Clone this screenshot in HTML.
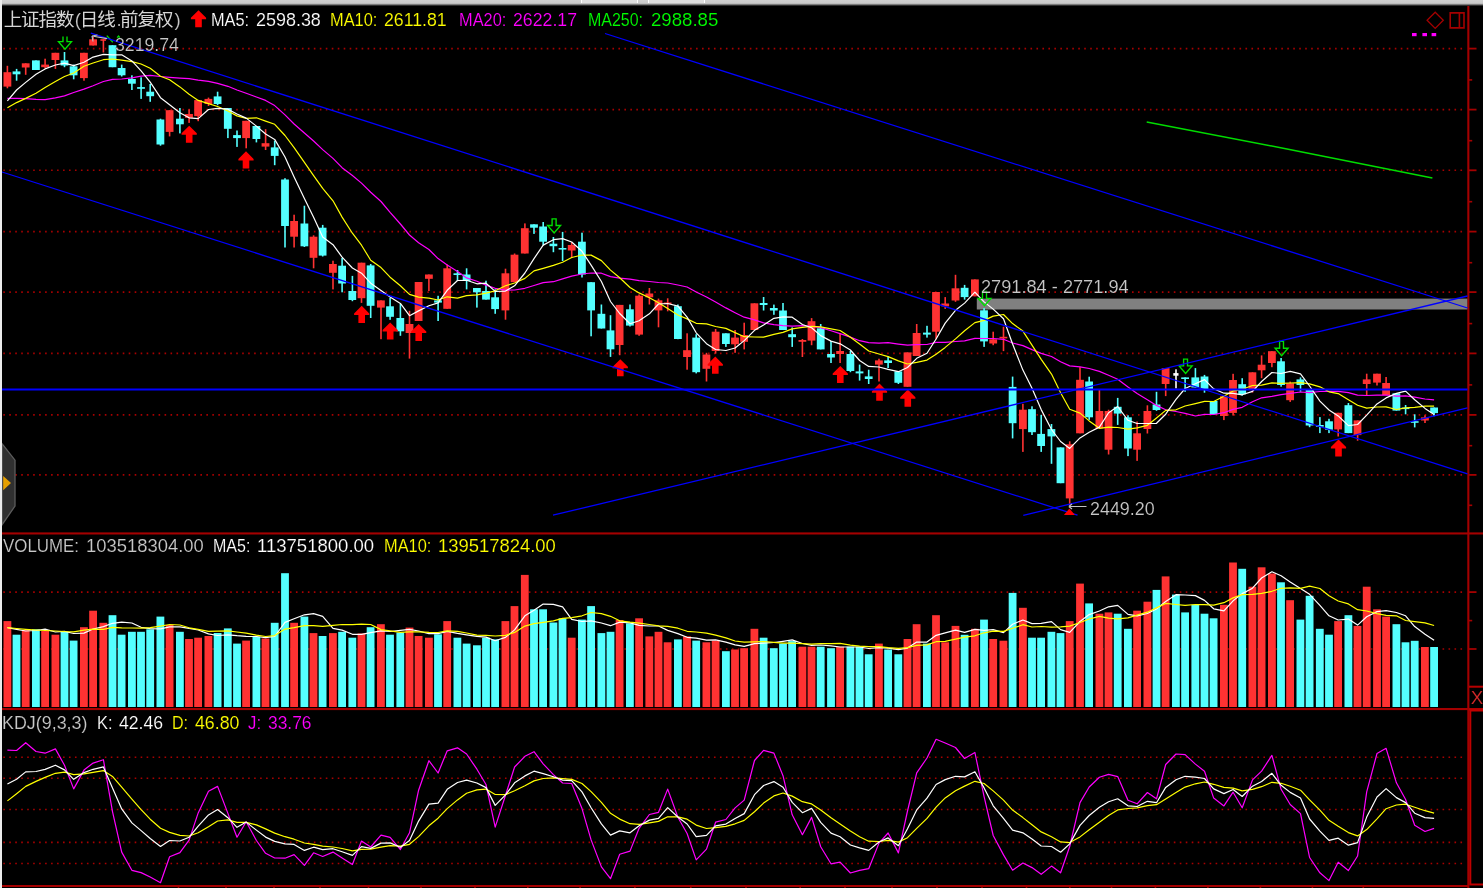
<!DOCTYPE html>
<html><head><meta charset="utf-8"><title>上证指数</title>
<style>
html,body{margin:0;padding:0;background:#000;}
body{width:1483px;height:888px;position:relative;overflow:hidden;font-family:"Liberation Sans",sans-serif;}
#top{position:absolute;left:0;top:0;width:1483px;height:6px;background:linear-gradient(#d0d0d0 0,#cacaca 55%,#555 85%,#000 100%);}
  .tab{position:absolute;top:0;width:55px;height:3.4px;background:#dedede;border-left:1.5px solid #fff;border-right:1.5px solid #fff;}
#left{position:absolute;left:0;top:0;width:2px;height:888px;background:#ececec;}
svg{position:absolute;left:0;top:0;filter:blur(0.45px);}
.t{filter:blur(0.3px);}
.t{position:absolute;line-height:20px;white-space:pre;transform-origin:0 0;-webkit-text-stroke:0.15px #000;}
.h{position:absolute;left:4px;top:8px;font-size:17.4px;line-height:20px;color:transparent;white-space:pre;}
</style></head><body>
<svg width="1483" height="888" viewBox="0 0 1483 888">
<line x1="3.3" y1="48.6" x2="1463" y2="48.6" stroke="#a80000" stroke-width="1.6" stroke-dasharray="1.6 4.372"/>
<line x1="3.3" y1="109.6" x2="1463" y2="109.6" stroke="#a80000" stroke-width="1.6" stroke-dasharray="1.6 4.372"/>
<line x1="3.3" y1="170.3" x2="1463" y2="170.3" stroke="#a80000" stroke-width="1.6" stroke-dasharray="1.6 4.372"/>
<line x1="3.3" y1="231.6" x2="1463" y2="231.6" stroke="#a80000" stroke-width="1.6" stroke-dasharray="1.6 4.372"/>
<line x1="3.3" y1="292.1" x2="1463" y2="292.1" stroke="#a80000" stroke-width="1.6" stroke-dasharray="1.6 4.372"/>
<line x1="3.3" y1="353.4" x2="1463" y2="353.4" stroke="#a80000" stroke-width="1.6" stroke-dasharray="1.6 4.372"/>
<line x1="3.3" y1="414.9" x2="1463" y2="414.9" stroke="#a80000" stroke-width="1.6" stroke-dasharray="1.6 4.372"/>
<line x1="3.3" y1="474.9" x2="1463" y2="474.9" stroke="#a80000" stroke-width="1.6" stroke-dasharray="1.6 4.372"/>
<line x1="3.3" y1="592.1" x2="1463" y2="592.1" stroke="#a80000" stroke-width="1.6" stroke-dasharray="1.6 4.372"/>
<line x1="3.3" y1="649" x2="1463" y2="649" stroke="#a80000" stroke-width="1.6" stroke-dasharray="1.6 4.372"/>
<line x1="3.3" y1="757.3" x2="1463" y2="757.3" stroke="#a80000" stroke-width="1.6" stroke-dasharray="1.6 4.372"/>
<line x1="3.3" y1="778.2" x2="1463" y2="778.2" stroke="#a80000" stroke-width="1.6" stroke-dasharray="1.6 4.372"/>
<line x1="3.3" y1="809.5" x2="1463" y2="809.5" stroke="#a80000" stroke-width="1.6" stroke-dasharray="1.6 4.372"/>
<line x1="3.3" y1="842.4" x2="1463" y2="842.4" stroke="#a80000" stroke-width="1.6" stroke-dasharray="1.6 4.372"/>
<line x1="3.3" y1="863.5" x2="1463" y2="863.5" stroke="#a80000" stroke-width="1.6" stroke-dasharray="1.6 4.372"/>
<rect x="1467.3" y="6" width="2.1" height="882" fill="#a40000"/>
<rect x="2" y="532.4" width="1481" height="2.1" fill="#a40000"/>
<rect x="2" y="708" width="1481" height="2.1" fill="#a40000"/>
<rect x="2" y="885" width="1467" height="2" fill="#a40000"/>
<rect x="1469" y="47.7" width="7.5" height="1.8" fill="#a40000"/>
<rect x="1469" y="108.7" width="7.5" height="1.8" fill="#a40000"/>
<rect x="1469" y="169.4" width="7.5" height="1.8" fill="#a40000"/>
<rect x="1469" y="230.7" width="7.5" height="1.8" fill="#a40000"/>
<rect x="1469" y="291.2" width="7.5" height="1.8" fill="#a40000"/>
<rect x="1469" y="352.5" width="7.5" height="1.8" fill="#a40000"/>
<rect x="1469" y="414" width="7.5" height="1.8" fill="#a40000"/>
<rect x="1469" y="474" width="7.5" height="1.8" fill="#a40000"/>
<rect x="1469" y="79.1" width="3.2" height="1.6" fill="#a40000"/>
<rect x="1469" y="139.9" width="3.2" height="1.6" fill="#a40000"/>
<rect x="1469" y="200.9" width="3.2" height="1.6" fill="#a40000"/>
<rect x="1469" y="261.9" width="3.2" height="1.6" fill="#a40000"/>
<rect x="1469" y="322.8" width="3.2" height="1.6" fill="#a40000"/>
<rect x="1469" y="384.1" width="3.2" height="1.6" fill="#a40000"/>
<rect x="1469" y="444.9" width="3.2" height="1.6" fill="#a40000"/>
<rect x="1469" y="504.5" width="3.2" height="1.6" fill="#a40000"/>
<rect x="1469" y="591.2" width="7.5" height="1.8" fill="#a40000"/>
<rect x="1469" y="648.1" width="7.5" height="1.8" fill="#a40000"/>
<rect x="1469" y="619.8" width="3.2" height="1.6" fill="#a40000"/>
<rect x="1469" y="685.7" width="14" height="2" fill="#b80000"/>
<rect x="1469" y="708.4" width="14" height="2" fill="#b80000"/>
<path d="M1484,710.6 H1470.3 V884.6 H1484" fill="none" stroke="#c00000" stroke-width="2"/>
<rect x="177.7" y="886" width="1.6" height="2" fill="#a40000"/>
<rect x="225.2" y="886" width="1.6" height="2" fill="#a40000"/>
<rect x="273.2" y="886" width="1.6" height="2" fill="#a40000"/>
<rect x="319.2" y="886" width="1.6" height="2" fill="#a40000"/>
<rect x="367.7" y="886" width="1.6" height="2" fill="#a40000"/>
<rect x="420.2" y="886" width="1.6" height="2" fill="#a40000"/>
<rect x="474.2" y="886" width="1.6" height="2" fill="#a40000"/>
<rect x="527" y="886" width="1.6" height="2" fill="#a40000"/>
<rect x="579.3" y="886" width="1.6" height="2" fill="#a40000"/>
<rect x="634.1" y="886" width="1.6" height="2" fill="#a40000"/>
<rect x="690" y="886" width="1.6" height="2" fill="#a40000"/>
<rect x="745.2" y="886" width="1.6" height="2" fill="#a40000"/>
<rect x="799.4" y="886" width="1.6" height="2" fill="#a40000"/>
<rect x="844.2" y="886" width="1.6" height="2" fill="#a40000"/>
<rect x="891.2" y="886" width="1.6" height="2" fill="#a40000"/>
<rect x="936.2" y="886" width="1.6" height="2" fill="#a40000"/>
<rect x="981.2" y="886" width="1.6" height="2" fill="#a40000"/>
<rect x="1025.7" y="886" width="1.6" height="2" fill="#a40000"/>
<rect x="1069" y="886" width="1.6" height="2" fill="#a40000"/>
<rect x="1110.7" y="886" width="1.6" height="2" fill="#a40000"/>
<rect x="1154.6" y="886" width="1.6" height="2" fill="#a40000"/>
<rect x="1207.1" y="886" width="1.6" height="2" fill="#a40000"/>
<rect x="1259.6" y="886" width="1.6" height="2" fill="#a40000"/>
<rect x="1311.6" y="886" width="1.6" height="2" fill="#a40000"/>
<rect x="1362.5" y="886" width="1.6" height="2" fill="#a40000"/>
<rect x="976.8" y="298.6" width="490.5" height="10.9" fill="#808080"/>
<rect x="6.6" y="65.8" width="1.6" height="22.5" fill="#ff3232"/>
<rect x="3.5" y="72.2" width="7.8" height="14.4" fill="#ff3232"/>
<rect x="15.8" y="68.9" width="1.6" height="11.8" fill="#54ffff"/>
<rect x="12.6" y="71.4" width="7.8" height="2.9" fill="#54ffff"/>
<rect x="24.9" y="63.3" width="1.6" height="11.5" fill="#ff3232"/>
<rect x="21.8" y="63.3" width="7.8" height="4.2" fill="#ff3232"/>
<rect x="35.2" y="60.4" width="1.6" height="9.6" fill="#54ffff"/>
<rect x="32" y="60.4" width="7.8" height="9.6" fill="#54ffff"/>
<rect x="44.3" y="58.7" width="1.6" height="9.8" fill="#ff3232"/>
<rect x="41.2" y="64.6" width="7.8" height="2.6" fill="#ff3232"/>
<rect x="54.6" y="52.8" width="1.6" height="16.1" fill="#ff3232"/>
<rect x="51.5" y="52.8" width="7.8" height="7.2" fill="#ff3232"/>
<rect x="63.7" y="52" width="1.6" height="15.2" fill="#54ffff"/>
<rect x="60.6" y="60.4" width="7.8" height="5.1" fill="#54ffff"/>
<rect x="72.9" y="64.6" width="1.6" height="14.7" fill="#54ffff"/>
<rect x="69.7" y="66.3" width="7.8" height="9" fill="#54ffff"/>
<rect x="83.2" y="52.8" width="1.6" height="27.9" fill="#ff3232"/>
<rect x="80" y="52.8" width="7.8" height="25.3" fill="#ff3232"/>
<rect x="92.3" y="37" width="1.6" height="8.5" fill="#ff3232"/>
<rect x="89.2" y="39.3" width="7.8" height="6.2" fill="#ff3232"/>
<rect x="102.6" y="39.2" width="1.6" height="13.3" fill="#ff3232"/>
<rect x="100.4" y="39.2" width="5.6" height="1.6" fill="#ff3232"/>
<rect x="111.7" y="45.2" width="1.6" height="22" fill="#54ffff"/>
<rect x="108.6" y="45.2" width="7.8" height="22" fill="#54ffff"/>
<rect x="120.9" y="64.6" width="1.6" height="11.9" fill="#54ffff"/>
<rect x="117.7" y="68" width="7.8" height="7.3" fill="#54ffff"/>
<rect x="131.1" y="75.3" width="1.6" height="14.7" fill="#54ffff"/>
<rect x="128" y="79" width="7.8" height="4.7" fill="#54ffff"/>
<rect x="140.3" y="77.3" width="1.6" height="21.6" fill="#54ffff"/>
<rect x="137.1" y="87.1" width="7.8" height="1.7" fill="#54ffff"/>
<rect x="149.4" y="84" width="1.6" height="17.8" fill="#54ffff"/>
<rect x="146.3" y="91.7" width="7.8" height="4.5" fill="#54ffff"/>
<rect x="159.7" y="118.7" width="1.6" height="27" fill="#54ffff"/>
<rect x="156.5" y="119.5" width="7.8" height="25" fill="#54ffff"/>
<rect x="168.8" y="110.2" width="1.6" height="26.2" fill="#ff3232"/>
<rect x="165.7" y="110.2" width="7.8" height="21.7" fill="#ff3232"/>
<rect x="179.1" y="108" width="1.6" height="25.4" fill="#54ffff"/>
<rect x="176" y="118.7" width="7.8" height="5.6" fill="#54ffff"/>
<rect x="188.3" y="109.4" width="1.6" height="13.5" fill="#ff3232"/>
<rect x="185.1" y="114" width="7.8" height="3.8" fill="#ff3232"/>
<rect x="197.4" y="100.1" width="1.6" height="21.1" fill="#ff3232"/>
<rect x="194.2" y="100.1" width="7.8" height="16" fill="#ff3232"/>
<rect x="207.7" y="97.6" width="1.6" height="8.4" fill="#ff3232"/>
<rect x="204.5" y="98.9" width="7.8" height="5.1" fill="#ff3232"/>
<rect x="216.8" y="91.7" width="1.6" height="13.5" fill="#54ffff"/>
<rect x="213.7" y="96.4" width="7.8" height="7.6" fill="#54ffff"/>
<rect x="227.1" y="108" width="1.6" height="30.1" fill="#54ffff"/>
<rect x="223.9" y="108" width="7.8" height="20.8" fill="#54ffff"/>
<rect x="236.2" y="130.5" width="1.6" height="16.4" fill="#54ffff"/>
<rect x="233.1" y="135.1" width="7.8" height="3" fill="#54ffff"/>
<rect x="245.4" y="120.8" width="1.6" height="27.5" fill="#ff3232"/>
<rect x="242.2" y="120.8" width="7.8" height="17.3" fill="#ff3232"/>
<rect x="255.6" y="126" width="1.6" height="16.4" fill="#54ffff"/>
<rect x="252.5" y="126" width="7.8" height="13" fill="#54ffff"/>
<rect x="264.8" y="129.2" width="1.6" height="20.8" fill="#ff3232"/>
<rect x="261.6" y="143.2" width="7.8" height="3.4" fill="#ff3232"/>
<rect x="273.9" y="140.7" width="1.6" height="24.5" fill="#54ffff"/>
<rect x="270.8" y="147.4" width="7.8" height="8.5" fill="#54ffff"/>
<rect x="284.2" y="178.2" width="1.6" height="69.3" fill="#54ffff"/>
<rect x="281.1" y="179.5" width="7.8" height="46.5" fill="#54ffff"/>
<rect x="293.3" y="214.7" width="1.6" height="32.8" fill="#ff3232"/>
<rect x="290.2" y="221" width="7.8" height="15.7" fill="#ff3232"/>
<rect x="303.6" y="205.7" width="1.6" height="41.3" fill="#54ffff"/>
<rect x="300.5" y="223.5" width="7.8" height="22.8" fill="#54ffff"/>
<rect x="312.8" y="235.3" width="1.6" height="33" fill="#ff3232"/>
<rect x="309.6" y="236.7" width="7.8" height="21.1" fill="#ff3232"/>
<rect x="321.9" y="224.9" width="1.6" height="31.6" fill="#54ffff"/>
<rect x="318.7" y="227.7" width="7.8" height="27.9" fill="#54ffff"/>
<rect x="332.2" y="260.7" width="1.6" height="28.7" fill="#ff3232"/>
<rect x="329" y="264" width="7.8" height="8.8" fill="#ff3232"/>
<rect x="341.3" y="258" width="1.6" height="34.3" fill="#54ffff"/>
<rect x="338.2" y="265.7" width="7.8" height="17.8" fill="#54ffff"/>
<rect x="351.6" y="275.9" width="1.6" height="25.3" fill="#54ffff"/>
<rect x="348.4" y="291" width="7.8" height="9" fill="#54ffff"/>
<rect x="360.7" y="262.7" width="1.6" height="40.2" fill="#ff3232"/>
<rect x="357.6" y="262.7" width="7.8" height="35.5" fill="#ff3232"/>
<rect x="369.9" y="264" width="1.6" height="54" fill="#54ffff"/>
<rect x="366.7" y="265.4" width="7.8" height="40.4" fill="#54ffff"/>
<rect x="380.2" y="300.4" width="1.6" height="38.8" fill="#ff3232"/>
<rect x="377" y="300.4" width="7.8" height="7.2" fill="#ff3232"/>
<rect x="389.3" y="297.8" width="1.6" height="22" fill="#54ffff"/>
<rect x="386.1" y="306.3" width="7.8" height="10.5" fill="#54ffff"/>
<rect x="399.6" y="303.8" width="1.6" height="32" fill="#54ffff"/>
<rect x="396.4" y="318" width="7.8" height="13.3" fill="#54ffff"/>
<rect x="408.7" y="310.8" width="1.6" height="47.8" fill="#ff3232"/>
<rect x="405.6" y="324" width="7.8" height="9" fill="#ff3232"/>
<rect x="417.8" y="282" width="1.6" height="39" fill="#ff3232"/>
<rect x="414.7" y="282" width="7.8" height="39" fill="#ff3232"/>
<rect x="428.1" y="274.5" width="1.6" height="16.5" fill="#ff3232"/>
<rect x="425" y="274.5" width="7.8" height="4.3" fill="#ff3232"/>
<rect x="437.3" y="295.8" width="1.6" height="25.2" fill="#54ffff"/>
<rect x="434.1" y="300.4" width="7.8" height="2.2" fill="#54ffff"/>
<rect x="446.4" y="264.4" width="1.6" height="44.4" fill="#ff3232"/>
<rect x="443.3" y="268.3" width="7.8" height="40.5" fill="#ff3232"/>
<rect x="456.7" y="270" width="1.6" height="11" fill="#54ffff"/>
<rect x="453.5" y="273.3" width="7.8" height="1.7" fill="#54ffff"/>
<rect x="465.8" y="268.3" width="1.6" height="21.1" fill="#54ffff"/>
<rect x="462.7" y="274.5" width="7.8" height="6.5" fill="#54ffff"/>
<rect x="476.1" y="288" width="1.6" height="19.6" fill="#54ffff"/>
<rect x="473" y="288" width="7.8" height="4.3" fill="#54ffff"/>
<rect x="485.2" y="280.7" width="1.6" height="18.9" fill="#54ffff"/>
<rect x="482.1" y="291" width="7.8" height="8.6" fill="#54ffff"/>
<rect x="494.4" y="289.3" width="1.6" height="24.5" fill="#54ffff"/>
<rect x="491.2" y="297.3" width="7.8" height="11.8" fill="#54ffff"/>
<rect x="504.7" y="268.7" width="1.6" height="51" fill="#ff3232"/>
<rect x="501.5" y="273.3" width="7.8" height="37.1" fill="#ff3232"/>
<rect x="513.8" y="253.5" width="1.6" height="28.7" fill="#ff3232"/>
<rect x="510.6" y="254.7" width="7.8" height="27.5" fill="#ff3232"/>
<rect x="524.1" y="223.4" width="1.6" height="30.1" fill="#ff3232"/>
<rect x="520.9" y="228.2" width="7.8" height="25.3" fill="#ff3232"/>
<rect x="533.2" y="224.3" width="1.6" height="9.6" fill="#54ffff"/>
<rect x="530.1" y="224.3" width="7.8" height="3.4" fill="#54ffff"/>
<rect x="542.4" y="222" width="1.6" height="23.4" fill="#54ffff"/>
<rect x="539.2" y="226.5" width="7.8" height="15.2" fill="#54ffff"/>
<rect x="552.6" y="237" width="1.6" height="15.2" fill="#54ffff"/>
<rect x="549.5" y="243.7" width="7.8" height="2.5" fill="#54ffff"/>
<rect x="561.8" y="231.9" width="1.6" height="29.1" fill="#54ffff"/>
<rect x="558.6" y="248" width="7.8" height="1.6" fill="#54ffff"/>
<rect x="570.9" y="242" width="1.6" height="16" fill="#ff3232"/>
<rect x="567.8" y="245" width="7.8" height="5.5" fill="#ff3232"/>
<rect x="581.2" y="232.7" width="1.6" height="44.8" fill="#54ffff"/>
<rect x="578" y="241.7" width="7.8" height="32.8" fill="#54ffff"/>
<rect x="590.3" y="282.2" width="1.6" height="54.1" fill="#54ffff"/>
<rect x="587.2" y="282.2" width="7.8" height="28.2" fill="#54ffff"/>
<rect x="600.6" y="304.5" width="1.6" height="24" fill="#54ffff"/>
<rect x="597.5" y="313.8" width="7.8" height="14.7" fill="#54ffff"/>
<rect x="609.7" y="315.2" width="1.6" height="41.7" fill="#54ffff"/>
<rect x="606.6" y="330.4" width="7.8" height="18.9" fill="#54ffff"/>
<rect x="618.9" y="304.9" width="1.6" height="50.3" fill="#ff3232"/>
<rect x="615.7" y="304.9" width="7.8" height="40.1" fill="#ff3232"/>
<rect x="629.2" y="304.5" width="1.6" height="22" fill="#54ffff"/>
<rect x="626" y="309.3" width="7.8" height="16.3" fill="#54ffff"/>
<rect x="638.3" y="294.4" width="1.6" height="41.4" fill="#ff3232"/>
<rect x="635.2" y="295.7" width="7.8" height="38.9" fill="#ff3232"/>
<rect x="648.6" y="288" width="1.6" height="16.5" fill="#ff3232"/>
<rect x="645.4" y="293.5" width="7.8" height="3.8" fill="#ff3232"/>
<rect x="657.7" y="298.6" width="1.6" height="28.7" fill="#ff3232"/>
<rect x="654.6" y="300.3" width="7.8" height="10.1" fill="#ff3232"/>
<rect x="666.9" y="298.3" width="1.6" height="13" fill="#ff3232"/>
<rect x="663.7" y="302.5" width="7.8" height="1.6" fill="#ff3232"/>
<rect x="677.1" y="304.5" width="1.6" height="34.7" fill="#54ffff"/>
<rect x="674" y="306.2" width="7.8" height="32.8" fill="#54ffff"/>
<rect x="686.3" y="333.3" width="1.6" height="36.4" fill="#ff3232"/>
<rect x="683.1" y="350.2" width="7.8" height="6.8" fill="#ff3232"/>
<rect x="695.4" y="334.2" width="1.6" height="39.2" fill="#54ffff"/>
<rect x="692.3" y="337.6" width="7.8" height="34.6" fill="#54ffff"/>
<rect x="705.7" y="352.8" width="1.6" height="28.7" fill="#ff3232"/>
<rect x="702.5" y="354.5" width="7.8" height="14.3" fill="#ff3232"/>
<rect x="714.8" y="329" width="1.6" height="24.6" fill="#ff3232"/>
<rect x="711.7" y="331.7" width="7.8" height="19.3" fill="#ff3232"/>
<rect x="725.1" y="333.3" width="1.6" height="13.6" fill="#54ffff"/>
<rect x="722" y="333.3" width="7.8" height="10.7" fill="#54ffff"/>
<rect x="734.3" y="330" width="1.6" height="22.8" fill="#ff3232"/>
<rect x="731.1" y="337.6" width="7.8" height="6.7" fill="#ff3232"/>
<rect x="743.4" y="322.7" width="1.6" height="26.7" fill="#ff3232"/>
<rect x="740.2" y="335" width="7.8" height="6.8" fill="#ff3232"/>
<rect x="753.7" y="303.3" width="1.6" height="26.7" fill="#ff3232"/>
<rect x="750.5" y="303.3" width="7.8" height="26.7" fill="#ff3232"/>
<rect x="762.8" y="297" width="1.6" height="13.5" fill="#54ffff"/>
<rect x="759.7" y="303" width="7.8" height="2" fill="#54ffff"/>
<rect x="773.1" y="304.6" width="1.6" height="10.2" fill="#54ffff"/>
<rect x="769.9" y="308" width="7.8" height="2.5" fill="#54ffff"/>
<rect x="782.2" y="303" width="1.6" height="27" fill="#54ffff"/>
<rect x="779.1" y="310.5" width="7.8" height="19.5" fill="#54ffff"/>
<rect x="791.4" y="327.4" width="1.6" height="19.5" fill="#54ffff"/>
<rect x="788.2" y="334.2" width="7.8" height="3" fill="#54ffff"/>
<rect x="801.6" y="339" width="1.6" height="18" fill="#ff3232"/>
<rect x="798.5" y="340" width="7.8" height="1.8" fill="#ff3232"/>
<rect x="810.8" y="318.1" width="1.6" height="27.1" fill="#ff3232"/>
<rect x="807.6" y="321.2" width="7.8" height="19.4" fill="#ff3232"/>
<rect x="819.9" y="324" width="1.6" height="25.4" fill="#54ffff"/>
<rect x="816.8" y="328.3" width="7.8" height="21.1" fill="#54ffff"/>
<rect x="830.2" y="341" width="1.6" height="22" fill="#54ffff"/>
<rect x="827.1" y="354" width="7.8" height="3.5" fill="#54ffff"/>
<rect x="839.3" y="333.3" width="1.6" height="29.7" fill="#ff3232"/>
<rect x="836.2" y="351" width="7.8" height="3" fill="#ff3232"/>
<rect x="849.6" y="351" width="1.6" height="21.2" fill="#54ffff"/>
<rect x="846.5" y="354" width="7.8" height="17" fill="#54ffff"/>
<rect x="858.8" y="364.6" width="1.6" height="16" fill="#54ffff"/>
<rect x="855.6" y="371.4" width="7.8" height="2" fill="#54ffff"/>
<rect x="867.9" y="369.7" width="1.6" height="14.3" fill="#54ffff"/>
<rect x="864.8" y="376.4" width="7.8" height="2.6" fill="#54ffff"/>
<rect x="878.2" y="358.7" width="1.6" height="22.8" fill="#ff3232"/>
<rect x="875" y="360.4" width="7.8" height="4.2" fill="#ff3232"/>
<rect x="887.3" y="356.1" width="1.6" height="11.9" fill="#54ffff"/>
<rect x="884.2" y="360.4" width="7.8" height="2.6" fill="#54ffff"/>
<rect x="897.6" y="371.4" width="1.6" height="12.6" fill="#54ffff"/>
<rect x="894.4" y="371.4" width="7.8" height="11.4" fill="#54ffff"/>
<rect x="906.7" y="352.4" width="1.6" height="34.4" fill="#ff3232"/>
<rect x="903.6" y="352.4" width="7.8" height="34.4" fill="#ff3232"/>
<rect x="915.9" y="324" width="1.6" height="32" fill="#ff3232"/>
<rect x="912.7" y="333" width="7.8" height="23" fill="#ff3232"/>
<rect x="926.2" y="325.8" width="1.6" height="11.8" fill="#54ffff"/>
<rect x="923" y="332.6" width="7.8" height="2" fill="#54ffff"/>
<rect x="935.3" y="292" width="1.6" height="47.3" fill="#ff3232"/>
<rect x="932.1" y="292" width="7.8" height="39.7" fill="#ff3232"/>
<rect x="944.4" y="297.1" width="1.6" height="11.8" fill="#ff3232"/>
<rect x="941.3" y="303.5" width="7.8" height="2.9" fill="#ff3232"/>
<rect x="954.7" y="274.8" width="1.6" height="27" fill="#ff3232"/>
<rect x="951.6" y="288.3" width="7.8" height="12.2" fill="#ff3232"/>
<rect x="963.8" y="284.9" width="1.6" height="14.7" fill="#54ffff"/>
<rect x="960.7" y="287.8" width="7.8" height="9.3" fill="#54ffff"/>
<rect x="974.1" y="279.4" width="1.6" height="16.9" fill="#ff3232"/>
<rect x="971" y="279.4" width="7.8" height="16.9" fill="#ff3232"/>
<rect x="983.3" y="308.1" width="1.6" height="38.8" fill="#54ffff"/>
<rect x="980.1" y="310.3" width="7.8" height="31.1" fill="#54ffff"/>
<rect x="992.4" y="331.7" width="1.6" height="13.5" fill="#ff3232"/>
<rect x="989.3" y="339.3" width="7.8" height="4.2" fill="#ff3232"/>
<rect x="1002.7" y="326.7" width="1.6" height="24.4" fill="#ff3232"/>
<rect x="999.5" y="336.8" width="7.8" height="1.6" fill="#ff3232"/>
<rect x="1011.8" y="376.6" width="1.6" height="61.8" fill="#54ffff"/>
<rect x="1008.7" y="386.9" width="7.8" height="36.3" fill="#54ffff"/>
<rect x="1022.1" y="403.8" width="1.6" height="48.1" fill="#ff3232"/>
<rect x="1019" y="409.7" width="7.8" height="19.4" fill="#ff3232"/>
<rect x="1031.2" y="406.3" width="1.6" height="28.7" fill="#54ffff"/>
<rect x="1028.1" y="409.2" width="7.8" height="23" fill="#54ffff"/>
<rect x="1040.4" y="414.8" width="1.6" height="37.1" fill="#54ffff"/>
<rect x="1037.2" y="433.9" width="7.8" height="12.1" fill="#54ffff"/>
<rect x="1050.7" y="424" width="1.6" height="39.8" fill="#54ffff"/>
<rect x="1047.5" y="429.1" width="7.8" height="7.3" fill="#54ffff"/>
<rect x="1059.8" y="447.4" width="1.6" height="35.8" fill="#54ffff"/>
<rect x="1056.6" y="447.4" width="7.8" height="35.8" fill="#54ffff"/>
<rect x="1068.9" y="441.3" width="1.6" height="63.8" fill="#ff3232"/>
<rect x="1065.8" y="444.3" width="7.8" height="54.1" fill="#ff3232"/>
<rect x="1079.2" y="367.2" width="1.6" height="66.1" fill="#ff3232"/>
<rect x="1076.1" y="379.8" width="7.8" height="53.5" fill="#ff3232"/>
<rect x="1088.4" y="376.7" width="1.6" height="43.1" fill="#54ffff"/>
<rect x="1085.2" y="381.5" width="7.8" height="35.8" fill="#54ffff"/>
<rect x="1098.6" y="389.4" width="1.6" height="38.9" fill="#ff3232"/>
<rect x="1095.5" y="411" width="7.8" height="17.3" fill="#ff3232"/>
<rect x="1107.8" y="409.7" width="1.6" height="44.8" fill="#ff3232"/>
<rect x="1104.6" y="411" width="7.8" height="38.7" fill="#ff3232"/>
<rect x="1116.9" y="397.9" width="1.6" height="27" fill="#54ffff"/>
<rect x="1113.8" y="406.8" width="7.8" height="6.8" fill="#54ffff"/>
<rect x="1127.2" y="415.3" width="1.6" height="40.8" fill="#54ffff"/>
<rect x="1124" y="417.3" width="7.8" height="31.2" fill="#54ffff"/>
<rect x="1136.3" y="421.5" width="1.6" height="39.4" fill="#ff3232"/>
<rect x="1133.2" y="433.3" width="7.8" height="16.4" fill="#ff3232"/>
<rect x="1146.6" y="405.3" width="1.6" height="28.2" fill="#ff3232"/>
<rect x="1143.5" y="411" width="7.8" height="18" fill="#ff3232"/>
<rect x="1155.7" y="391.8" width="1.6" height="19" fill="#54ffff"/>
<rect x="1152.6" y="404.5" width="7.8" height="5.5" fill="#54ffff"/>
<rect x="1164.9" y="368.1" width="1.6" height="28" fill="#ff3232"/>
<rect x="1161.7" y="368.1" width="7.8" height="15.9" fill="#ff3232"/>
<rect x="1175.2" y="369.3" width="1.6" height="19.1" fill="#ffffff"/>
<rect x="1173.3" y="373.1" width="5.2" height="2.6" fill="#ffffff"/>
<rect x="1184.3" y="377.4" width="1.6" height="14.4" fill="#54ffff"/>
<rect x="1181.2" y="377.4" width="7.8" height="1.6" fill="#54ffff"/>
<rect x="1194.6" y="368.1" width="1.6" height="19.4" fill="#54ffff"/>
<rect x="1191.4" y="377.4" width="7.8" height="10.1" fill="#54ffff"/>
<rect x="1203.7" y="374.9" width="1.6" height="17.8" fill="#54ffff"/>
<rect x="1200.6" y="376.5" width="7.8" height="12.5" fill="#54ffff"/>
<rect x="1212.9" y="401" width="1.6" height="13.2" fill="#54ffff"/>
<rect x="1209.7" y="401" width="7.8" height="13.2" fill="#54ffff"/>
<rect x="1223.1" y="396.3" width="1.6" height="23.8" fill="#ff3232"/>
<rect x="1220" y="396.3" width="7.8" height="19.7" fill="#ff3232"/>
<rect x="1232.3" y="373.8" width="1.6" height="41.7" fill="#ff3232"/>
<rect x="1229.1" y="380" width="7.8" height="32.9" fill="#ff3232"/>
<rect x="1241.4" y="378.2" width="1.6" height="17.4" fill="#54ffff"/>
<rect x="1238.3" y="384.2" width="7.8" height="10.1" fill="#54ffff"/>
<rect x="1251.7" y="372.3" width="1.6" height="20.3" fill="#ff3232"/>
<rect x="1248.5" y="372.3" width="7.8" height="17.7" fill="#ff3232"/>
<rect x="1260.8" y="355.4" width="1.6" height="22.8" fill="#ff3232"/>
<rect x="1257.7" y="364.7" width="7.8" height="5.6" fill="#ff3232"/>
<rect x="1271.1" y="351.2" width="1.6" height="16" fill="#ff3232"/>
<rect x="1268" y="351.2" width="7.8" height="11.8" fill="#ff3232"/>
<rect x="1280.3" y="358" width="1.6" height="28.7" fill="#54ffff"/>
<rect x="1277.1" y="361.3" width="7.8" height="23.7" fill="#54ffff"/>
<rect x="1289.4" y="381.6" width="1.6" height="20.3" fill="#ff3232"/>
<rect x="1286.2" y="383.3" width="7.8" height="16.9" fill="#ff3232"/>
<rect x="1299.7" y="377.4" width="1.6" height="14.3" fill="#54ffff"/>
<rect x="1296.5" y="379.4" width="7.8" height="5.6" fill="#54ffff"/>
<rect x="1308.8" y="390" width="1.6" height="37.2" fill="#54ffff"/>
<rect x="1305.7" y="390" width="7.8" height="35.5" fill="#54ffff"/>
<rect x="1319.1" y="417.1" width="1.6" height="16" fill="#54ffff"/>
<rect x="1315.9" y="425" width="7.8" height="1.7" fill="#54ffff"/>
<rect x="1328.2" y="418.8" width="1.6" height="14.3" fill="#54ffff"/>
<rect x="1325.1" y="421.3" width="7.8" height="8.4" fill="#54ffff"/>
<rect x="1337.4" y="412.8" width="1.6" height="23.7" fill="#ff3232"/>
<rect x="1334.2" y="412.8" width="7.8" height="16.6" fill="#ff3232"/>
<rect x="1347.6" y="403" width="1.6" height="30.1" fill="#54ffff"/>
<rect x="1344.5" y="405.2" width="7.8" height="27.9" fill="#54ffff"/>
<rect x="1356.8" y="420.4" width="1.6" height="20.3" fill="#ff3232"/>
<rect x="1353.6" y="420.4" width="7.8" height="14.7" fill="#ff3232"/>
<rect x="1365.9" y="373.7" width="1.6" height="22.2" fill="#ff3232"/>
<rect x="1362.8" y="379.4" width="7.8" height="4.6" fill="#ff3232"/>
<rect x="1376.2" y="373.7" width="1.6" height="11.8" fill="#ff3232"/>
<rect x="1373.1" y="373.7" width="7.8" height="8.9" fill="#ff3232"/>
<rect x="1385.3" y="377" width="1.6" height="18.1" fill="#ff3232"/>
<rect x="1382.2" y="383" width="7.8" height="12.1" fill="#ff3232"/>
<rect x="1395.6" y="393.3" width="1.6" height="17.3" fill="#54ffff"/>
<rect x="1392.5" y="393.3" width="7.8" height="17.3" fill="#54ffff"/>
<rect x="1404.8" y="405" width="1.6" height="9.3" fill="#54ffff"/>
<rect x="1401.6" y="407.5" width="7.8" height="1.6" fill="#54ffff"/>
<rect x="1413.9" y="414.3" width="1.6" height="13.1" fill="#54ffff"/>
<rect x="1410.8" y="421.2" width="7.8" height="1.6" fill="#54ffff"/>
<rect x="1424.2" y="415.3" width="1.6" height="7.7" fill="#ff3232"/>
<rect x="1421" y="417.4" width="7.8" height="3.1" fill="#ff3232"/>
<rect x="1433.3" y="407.5" width="1.6" height="8.7" fill="#54ffff"/>
<rect x="1430.2" y="407.5" width="7.8" height="5.6" fill="#54ffff"/>
<rect x="3.5" y="621.1" width="7.8" height="85.9" fill="#ff3232"/>
<rect x="12.6" y="634.7" width="7.8" height="72.3" fill="#54ffff"/>
<rect x="21.8" y="630.1" width="7.8" height="76.9" fill="#ff3232"/>
<rect x="32" y="629.3" width="7.8" height="77.7" fill="#54ffff"/>
<rect x="41.2" y="631" width="7.8" height="76" fill="#ff3232"/>
<rect x="51.5" y="634.7" width="7.8" height="72.3" fill="#ff3232"/>
<rect x="60.6" y="631.8" width="7.8" height="75.2" fill="#54ffff"/>
<rect x="69.7" y="640.6" width="7.8" height="66.4" fill="#54ffff"/>
<rect x="80" y="627.2" width="7.8" height="79.8" fill="#ff3232"/>
<rect x="89.2" y="610.7" width="7.8" height="96.3" fill="#ff3232"/>
<rect x="99.4" y="622.8" width="7.8" height="84.2" fill="#ff3232"/>
<rect x="108.6" y="615.2" width="7.8" height="91.8" fill="#54ffff"/>
<rect x="117.7" y="634.7" width="7.8" height="72.3" fill="#54ffff"/>
<rect x="128" y="631.8" width="7.8" height="75.2" fill="#54ffff"/>
<rect x="137.1" y="631.8" width="7.8" height="75.2" fill="#54ffff"/>
<rect x="146.3" y="629.3" width="7.8" height="77.7" fill="#54ffff"/>
<rect x="156.5" y="616.6" width="7.8" height="90.4" fill="#54ffff"/>
<rect x="165.7" y="625" width="7.8" height="82" fill="#ff3232"/>
<rect x="176" y="631.8" width="7.8" height="75.2" fill="#54ffff"/>
<rect x="185.1" y="639" width="7.8" height="68" fill="#ff3232"/>
<rect x="194.2" y="637.7" width="7.8" height="69.3" fill="#ff3232"/>
<rect x="204.5" y="636" width="7.8" height="71" fill="#ff3232"/>
<rect x="213.7" y="633" width="7.8" height="74" fill="#54ffff"/>
<rect x="223.9" y="628.4" width="7.8" height="78.6" fill="#54ffff"/>
<rect x="233.1" y="643.6" width="7.8" height="63.4" fill="#54ffff"/>
<rect x="242.2" y="640.6" width="7.8" height="66.4" fill="#ff3232"/>
<rect x="252.5" y="636.9" width="7.8" height="70.1" fill="#54ffff"/>
<rect x="261.6" y="638.5" width="7.8" height="68.5" fill="#ff3232"/>
<rect x="270.8" y="622.8" width="7.8" height="84.2" fill="#54ffff"/>
<rect x="281.1" y="573.2" width="7.8" height="133.8" fill="#54ffff"/>
<rect x="290.2" y="622.8" width="7.8" height="84.2" fill="#ff3232"/>
<rect x="300.5" y="616.6" width="7.8" height="90.4" fill="#54ffff"/>
<rect x="309.6" y="633.1" width="7.8" height="73.9" fill="#ff3232"/>
<rect x="318.7" y="636" width="7.8" height="71" fill="#54ffff"/>
<rect x="329" y="633.1" width="7.8" height="73.9" fill="#ff3232"/>
<rect x="338.2" y="631.8" width="7.8" height="75.2" fill="#54ffff"/>
<rect x="348.4" y="637.7" width="7.8" height="69.3" fill="#54ffff"/>
<rect x="357.6" y="633.5" width="7.8" height="73.5" fill="#ff3232"/>
<rect x="366.7" y="627.2" width="7.8" height="79.8" fill="#54ffff"/>
<rect x="377" y="624.2" width="7.8" height="82.8" fill="#ff3232"/>
<rect x="386.1" y="634.7" width="7.8" height="72.3" fill="#54ffff"/>
<rect x="396.4" y="632.6" width="7.8" height="74.4" fill="#54ffff"/>
<rect x="405.6" y="627.6" width="7.8" height="79.4" fill="#ff3232"/>
<rect x="414.7" y="636" width="7.8" height="71" fill="#ff3232"/>
<rect x="425" y="637.7" width="7.8" height="69.3" fill="#ff3232"/>
<rect x="434.1" y="634.3" width="7.8" height="72.7" fill="#54ffff"/>
<rect x="443.3" y="621.1" width="7.8" height="85.9" fill="#ff3232"/>
<rect x="453.5" y="637.7" width="7.8" height="69.3" fill="#54ffff"/>
<rect x="462.7" y="643.6" width="7.8" height="63.4" fill="#54ffff"/>
<rect x="473" y="645.3" width="7.8" height="61.7" fill="#54ffff"/>
<rect x="482.1" y="637.7" width="7.8" height="69.3" fill="#54ffff"/>
<rect x="491.2" y="639.4" width="7.8" height="67.6" fill="#54ffff"/>
<rect x="501.5" y="621.1" width="7.8" height="85.9" fill="#ff3232"/>
<rect x="510.6" y="606.1" width="7.8" height="100.9" fill="#ff3232"/>
<rect x="520.9" y="574.9" width="7.8" height="132.1" fill="#ff3232"/>
<rect x="530.1" y="609.3" width="7.8" height="97.7" fill="#54ffff"/>
<rect x="539.2" y="609.3" width="7.8" height="97.7" fill="#54ffff"/>
<rect x="549.5" y="622.5" width="7.8" height="84.5" fill="#54ffff"/>
<rect x="558.6" y="618.3" width="7.8" height="88.7" fill="#54ffff"/>
<rect x="567.8" y="637.7" width="7.8" height="69.3" fill="#ff3232"/>
<rect x="578" y="619.6" width="7.8" height="87.4" fill="#54ffff"/>
<rect x="587.2" y="606.1" width="7.8" height="100.9" fill="#54ffff"/>
<rect x="597.5" y="633.1" width="7.8" height="73.9" fill="#54ffff"/>
<rect x="606.6" y="631.8" width="7.8" height="75.2" fill="#54ffff"/>
<rect x="615.7" y="620" width="7.8" height="87" fill="#ff3232"/>
<rect x="626" y="623.3" width="7.8" height="83.7" fill="#54ffff"/>
<rect x="635.2" y="618.3" width="7.8" height="88.7" fill="#ff3232"/>
<rect x="645.4" y="636.4" width="7.8" height="70.6" fill="#ff3232"/>
<rect x="654.6" y="631.8" width="7.8" height="75.2" fill="#ff3232"/>
<rect x="663.7" y="642.3" width="7.8" height="64.7" fill="#ff3232"/>
<rect x="674" y="639.4" width="7.8" height="67.6" fill="#54ffff"/>
<rect x="683.1" y="636.4" width="7.8" height="70.6" fill="#ff3232"/>
<rect x="692.3" y="640.6" width="7.8" height="66.4" fill="#54ffff"/>
<rect x="702.5" y="642.3" width="7.8" height="64.7" fill="#ff3232"/>
<rect x="711.7" y="640.6" width="7.8" height="66.4" fill="#ff3232"/>
<rect x="722" y="651.2" width="7.8" height="55.8" fill="#54ffff"/>
<rect x="731.1" y="649.5" width="7.8" height="57.5" fill="#ff3232"/>
<rect x="740.2" y="648.2" width="7.8" height="58.8" fill="#ff3232"/>
<rect x="750.5" y="628.8" width="7.8" height="78.2" fill="#ff3232"/>
<rect x="759.7" y="637.7" width="7.8" height="69.3" fill="#54ffff"/>
<rect x="769.9" y="648.2" width="7.8" height="58.8" fill="#54ffff"/>
<rect x="779.1" y="643.6" width="7.8" height="63.4" fill="#54ffff"/>
<rect x="788.2" y="641.1" width="7.8" height="65.9" fill="#54ffff"/>
<rect x="798.5" y="646.7" width="7.8" height="60.3" fill="#ff3232"/>
<rect x="807.6" y="646.7" width="7.8" height="60.3" fill="#ff3232"/>
<rect x="816.8" y="646.7" width="7.8" height="60.3" fill="#54ffff"/>
<rect x="827.1" y="648.2" width="7.8" height="58.8" fill="#54ffff"/>
<rect x="836.2" y="646.7" width="7.8" height="60.3" fill="#ff3232"/>
<rect x="846.5" y="646.7" width="7.8" height="60.3" fill="#54ffff"/>
<rect x="855.6" y="646.7" width="7.8" height="60.3" fill="#54ffff"/>
<rect x="864.8" y="654.3" width="7.8" height="52.7" fill="#54ffff"/>
<rect x="875" y="643.6" width="7.8" height="63.4" fill="#ff3232"/>
<rect x="884.2" y="649.5" width="7.8" height="57.5" fill="#54ffff"/>
<rect x="894.4" y="654.3" width="7.8" height="52.7" fill="#54ffff"/>
<rect x="903.6" y="639" width="7.8" height="68" fill="#ff3232"/>
<rect x="912.7" y="624.2" width="7.8" height="82.8" fill="#ff3232"/>
<rect x="923" y="643.6" width="7.8" height="63.4" fill="#54ffff"/>
<rect x="932.1" y="615.2" width="7.8" height="91.8" fill="#ff3232"/>
<rect x="941.3" y="642.3" width="7.8" height="64.7" fill="#ff3232"/>
<rect x="951.6" y="625.9" width="7.8" height="81.1" fill="#ff3232"/>
<rect x="960.7" y="634.8" width="7.8" height="72.2" fill="#54ffff"/>
<rect x="971" y="628.8" width="7.8" height="78.2" fill="#ff3232"/>
<rect x="980.1" y="619.6" width="7.8" height="87.4" fill="#54ffff"/>
<rect x="989.3" y="639" width="7.8" height="68" fill="#ff3232"/>
<rect x="999.5" y="640.7" width="7.8" height="66.3" fill="#ff3232"/>
<rect x="1008.7" y="592.9" width="7.8" height="114.1" fill="#54ffff"/>
<rect x="1019" y="607.8" width="7.8" height="99.2" fill="#ff3232"/>
<rect x="1028.1" y="637.7" width="7.8" height="69.3" fill="#54ffff"/>
<rect x="1037.2" y="637.7" width="7.8" height="69.3" fill="#54ffff"/>
<rect x="1047.5" y="631.8" width="7.8" height="75.2" fill="#54ffff"/>
<rect x="1056.6" y="633.1" width="7.8" height="73.9" fill="#54ffff"/>
<rect x="1065.8" y="621.1" width="7.8" height="85.9" fill="#ff3232"/>
<rect x="1076.1" y="583.6" width="7.8" height="123.4" fill="#ff3232"/>
<rect x="1085.2" y="603.4" width="7.8" height="103.6" fill="#54ffff"/>
<rect x="1095.5" y="613.7" width="7.8" height="93.3" fill="#ff3232"/>
<rect x="1104.6" y="612.4" width="7.8" height="94.6" fill="#ff3232"/>
<rect x="1113.8" y="613.7" width="7.8" height="93.3" fill="#54ffff"/>
<rect x="1124" y="628.8" width="7.8" height="78.2" fill="#54ffff"/>
<rect x="1133.2" y="610.7" width="7.8" height="96.3" fill="#ff3232"/>
<rect x="1143.5" y="601.7" width="7.8" height="105.3" fill="#ff3232"/>
<rect x="1152.6" y="589.9" width="7.8" height="117.1" fill="#54ffff"/>
<rect x="1161.7" y="576.4" width="7.8" height="130.6" fill="#ff3232"/>
<rect x="1172" y="594.6" width="7.8" height="112.4" fill="#54ffff"/>
<rect x="1181.2" y="612.4" width="7.8" height="94.6" fill="#54ffff"/>
<rect x="1191.4" y="604.8" width="7.8" height="102.2" fill="#54ffff"/>
<rect x="1200.6" y="613.7" width="7.8" height="93.3" fill="#54ffff"/>
<rect x="1209.7" y="618.3" width="7.8" height="88.7" fill="#54ffff"/>
<rect x="1220" y="604.8" width="7.8" height="102.2" fill="#ff3232"/>
<rect x="1229.1" y="562.5" width="7.8" height="144.5" fill="#ff3232"/>
<rect x="1238.3" y="568.8" width="7.8" height="138.2" fill="#54ffff"/>
<rect x="1248.5" y="586.7" width="7.8" height="120.3" fill="#ff3232"/>
<rect x="1257.7" y="567.3" width="7.8" height="139.7" fill="#ff3232"/>
<rect x="1268" y="573.5" width="7.8" height="133.5" fill="#ff3232"/>
<rect x="1277.1" y="582.3" width="7.8" height="124.7" fill="#54ffff"/>
<rect x="1286.2" y="600.2" width="7.8" height="106.8" fill="#ff3232"/>
<rect x="1296.5" y="619.6" width="7.8" height="87.4" fill="#54ffff"/>
<rect x="1305.7" y="595.8" width="7.8" height="111.2" fill="#54ffff"/>
<rect x="1315.9" y="628.8" width="7.8" height="78.2" fill="#54ffff"/>
<rect x="1325.1" y="634.7" width="7.8" height="72.3" fill="#54ffff"/>
<rect x="1334.2" y="621.1" width="7.8" height="85.9" fill="#ff3232"/>
<rect x="1344.5" y="615.2" width="7.8" height="91.8" fill="#54ffff"/>
<rect x="1353.6" y="625.9" width="7.8" height="81.1" fill="#ff3232"/>
<rect x="1362.8" y="586.7" width="7.8" height="120.3" fill="#ff3232"/>
<rect x="1373.1" y="609.3" width="7.8" height="97.7" fill="#ff3232"/>
<rect x="1382.2" y="616.6" width="7.8" height="90.4" fill="#ff3232"/>
<rect x="1392.5" y="624.2" width="7.8" height="82.8" fill="#54ffff"/>
<rect x="1401.6" y="642.3" width="7.8" height="64.7" fill="#54ffff"/>
<rect x="1410.8" y="640.8" width="7.8" height="66.2" fill="#54ffff"/>
<rect x="1421" y="647" width="7.8" height="60" fill="#ff3232"/>
<rect x="1430.2" y="647" width="7.8" height="60" fill="#54ffff"/>
<polyline points="7.4,98.4 16.6,98.4 25.7,98.6 36,99.3 45.1,99.6 55.4,97.8 64.5,95.9 73.7,92.5 84,89.1 93.1,85.7 103.4,81.5 112.5,79.3 121.7,79 131.9,77.8 141.1,76.2 150.2,75.3 160.5,76.5 169.6,77.3 179.9,78.1 189.1,78.7 198.2,80.1 208.5,81.3 217.6,83.3 227.9,86.3 237,90 246.2,93.3 256.4,97 265.6,100.4 274.7,105.6 285,114.9 294.1,124 304.4,133 313.6,141 322.7,149.6 333,158.4 342.1,167.7 352.4,175.5 361.5,183.1 370.7,192.2 381,201.5 390.1,212.4 400.4,224 409.5,235 418.6,242.7 428.9,249.5 438.1,258.6 447.2,265 457.5,271.6 466.6,277.9 476.9,281.2 486,285.1 495.2,288.3 505.5,290.1 514.6,290 524.9,288.3 534,285.5 543.2,282.6 553.4,281.7 562.6,278.9 571.7,276.1 582,274 591.1,273 601.4,273.2 610.5,276.6 619.7,278.1 630,279.2 639.1,280.6 649.4,281.5 658.5,282.5 667.7,283 677.9,285 687.1,287 696.2,292 706.5,297 715.6,302.1 725.9,307.9 735.1,312.7 744.2,317.2 754.5,319.9 763.6,322.9 773.9,324.7 783,325.7 792.2,326.1 802.4,325.6 811.6,326.4 820.7,327.6 831,330.7 840.1,333.6 850.4,337.1 859.6,340.7 868.7,342.7 879,343.2 888.1,342.7 898.4,344.1 907.5,345.2 916.7,344.6 927,344.5 936.1,342.3 945.2,342.3 955.5,341.5 964.6,340.8 974.9,338.3 984.1,338.5 993.2,338.5 1003.5,339.3 1012.6,343 1022.9,345.6 1032,349.6 1041.2,353.4 1051.5,356.5 1060.6,361.7 1069.7,365.9 1080,366.8 1089.2,368.5 1099.4,371.4 1108.6,375.3 1117.7,379.3 1128,387.1 1137.1,393.6 1147.4,399.7 1156.5,405.4 1165.7,409.8 1176,411.5 1185.1,413.4 1195.4,416 1204.5,414.3 1213.7,414.5 1223.9,412.7 1233.1,409.4 1242.2,407.3 1252.5,401.7 1261.6,397.8 1271.9,396.3 1281.1,394.7 1290.2,393.3 1300.5,392 1309.6,392.6 1319.9,391.5 1329,391.4 1338.2,391.4 1348.4,392.6 1357.6,395.2 1366.7,395.5 1377,395.2 1386.1,395 1396.4,396.1 1405.6,395.8 1414.7,397.1 1425,399 1434.1,399.9" fill="none" stroke="#ff00ff" stroke-width="1.2" stroke-linejoin="round"/>
<polyline points="7.4,107.7 16.6,102.6 25.7,98.4 36,93.3 45.1,87.4 55.4,81.5 64.5,76.5 73.7,73 84,66.3 93.1,63 103.4,59.7 112.5,59 121.7,60.2 131.9,61.6 141.1,64 150.2,68.3 160.5,76.2 169.6,79.7 179.9,86.9 189.1,94.3 198.2,100.4 208.5,103.6 217.6,106.5 227.9,111 237,115.9 246.2,118.4 256.4,117.8 265.6,121.1 274.7,124.3 285,135.5 294.1,147.6 304.4,162.3 313.6,175.6 322.7,188.3 333,200.8 342.1,217.1 352.4,233.2 361.5,245.2 370.7,260.2 381,267.6 390.1,277.2 400.4,285.7 409.5,294.4 418.6,297.1 428.9,298.1 438.1,300 447.2,296.8 457.5,298.1 466.6,295.6 476.9,294.8 486,293.1 495.2,290.8 505.5,285.8 514.6,283 524.9,278.4 534,270.9 543.2,268.3 553.4,265.4 562.6,262.2 571.7,257.5 582,255 591.1,255.1 601.4,260.6 610.5,270.1 619.7,277.8 630,287.5 639.1,292.9 649.4,297.7 658.5,302.8 667.7,308.5 677.9,315 687.1,318.9 696.2,323.3 706.5,323.8 715.6,326.5 725.9,328.4 735.1,332.6 744.2,336.7 754.5,337 763.6,337.2 773.9,334.4 783,332.4 792.2,328.9 802.4,327.4 811.6,326.4 820.7,326.9 831,328.9 840.1,330.5 850.4,337.3 859.6,344.1 868.7,351 879,354 888.1,356.6 898.4,360.9 907.5,364 916.7,362.4 927,360.1 936.1,354.2 945.2,347.4 955.5,338.9 964.6,330.7 974.9,322.6 984.1,320.4 993.2,316.1 1003.5,314.5 1012.6,323.6 1022.9,331.1 1032,345.1 1041.2,359.3 1051.5,374.1 1060.6,392.8 1069.7,409.2 1080,413.1 1089.2,420.9 1099.4,428.3 1108.6,427.1 1117.7,427.5 1128,429.1 1137.1,427.8 1147.4,425.3 1156.5,418 1165.7,410.4 1176,409.8 1185.1,406 1195.4,403.6 1204.5,401.4 1213.7,401.5 1223.9,396.3 1233.1,390.9 1242.2,389.3 1252.5,385.5 1261.6,385.2 1271.9,382.9 1281.1,383.4 1290.2,383 1300.5,382.6 1309.6,383.8 1319.9,386.8 1329,391.8 1338.2,393.6 1348.4,399.7 1357.6,405.3 1366.7,408.1 1377,407 1386.1,406.9 1396.4,409.5 1405.6,407.8 1414.7,407.4 1425,406.2 1434.1,406.2" fill="none" stroke="#ffff00" stroke-width="1.2" stroke-linejoin="round"/>
<polyline points="7.4,100.9 16.6,90 25.7,82.4 36,74.3 45.1,68.9 55.4,65 64.5,63.2 73.7,65.6 84,62.2 93.1,57.1 103.4,54.4 112.5,54.8 121.7,54.8 131.9,60.9 141.1,70.8 150.2,82.2 160.5,97.7 169.6,104.7 179.9,112.8 189.1,117.8 198.2,118.6 208.5,109.5 217.6,108.3 227.9,109.2 237,114 246.2,118.1 256.4,126.1 265.6,134 274.7,139.4 285,157 294.1,177 304.4,198.5 313.6,217.2 322.7,237.1 333,244.7 342.1,257.2 352.4,268 361.5,273.2 370.7,283.2 381,290.5 390.1,297.1 400.4,303.4 409.5,315.7 418.6,310.9 428.9,305.7 438.1,302.9 447.2,290.3 457.5,280.5 466.6,280.3 476.9,283.8 486,283.2 495.2,291.4 505.5,291.1 514.6,285.8 524.9,273 534,258.6 543.2,245.1 553.4,239.7 562.6,238.6 571.7,242 582,251.3 591.1,265.1 601.4,281.5 610.5,301.5 619.7,313.5 630,323.7 639.1,320.8 649.4,313.8 658.5,304 667.7,303.5 677.9,306.2 687.1,317.1 696.2,332.8 706.5,343.7 715.6,349.5 725.9,350.5 735.1,348 744.2,340.6 754.5,330.3 763.6,325 773.9,318.3 783,316.8 792.2,317.2 802.4,324.5 811.6,327.8 820.7,335.6 831,341.1 840.1,343.8 850.4,350 859.6,360.5 868.7,366.4 879,367 888.1,369.4 898.4,371.7 907.5,367.5 916.7,358.3 927,353.2 936.1,339 945.2,323.1 955.5,310.3 964.6,303.1 974.9,292.1 984.1,301.9 993.2,309.1 1003.5,318.8 1012.6,344 1022.9,370.1 1032,388.2 1041.2,409.6 1051.5,429.5 1060.6,441.5 1069.7,448.4 1080,437.9 1089.2,432.2 1099.4,427.1 1108.6,412.7 1117.7,406.5 1128,420.3 1137.1,423.5 1147.4,423.5 1156.5,423.3 1165.7,414.2 1176,399.4 1185.1,388.5 1195.4,383.8 1204.5,379.6 1213.7,388.8 1223.9,393.2 1233.1,393.4 1242.2,394.8 1252.5,391.4 1261.6,381.5 1271.9,372.5 1281.1,373.5 1290.2,371.3 1300.5,373.8 1309.6,386 1319.9,401.1 1329,410 1338.2,415.9 1348.4,425.6 1357.6,424.5 1366.7,415.1 1377,403.9 1386.1,397.9 1396.4,393.4 1405.6,391.1 1414.7,399.7 1425,408.4 1434.1,414.5" fill="none" stroke="#ffffff" stroke-width="1.2" stroke-linejoin="round"/>
<polyline points="1146.7,122.1 1287,148.9 1432.4,177.9" fill="none" stroke="#00dc00" stroke-width="1.5"/>
<polyline points="7.4,627.6 16.6,629.3 25.7,631 36,630.5 45.1,629.2 55.4,632 64.5,631.4 73.7,633.5 84,633.1 93.1,629 103.4,626.6 112.5,623.3 121.7,622.1 131.9,623 141.1,627.3 150.2,628.6 160.5,628.8 169.6,626.9 179.9,626.9 189.1,628.3 198.2,630 208.5,633.9 217.6,635.5 227.9,634.8 237,635.7 246.2,636.3 256.4,636.5 265.6,637.6 274.7,636.5 285,622.4 294.1,618.8 304.4,614.8 313.6,613.7 322.7,616.3 333,628.3 342.1,630.1 352.4,634.3 361.5,634.4 370.7,632.7 381,630.9 390.1,631.5 400.4,630.4 409.5,629.3 418.6,631 428.9,633.7 438.1,633.6 447.2,631.3 457.5,633.4 466.6,634.9 476.9,636.4 486,637.1 495.2,640.7 505.5,637.4 514.6,629.9 524.9,615.8 534,610.2 543.2,604.1 553.4,604.4 562.6,606.9 571.7,619.4 582,621.5 591.1,620.8 601.4,623 610.5,625.7 619.7,622.1 630,622.9 639.1,625.3 649.4,626 658.5,626 667.7,630.4 677.9,633.6 687.1,637.3 696.2,638.1 706.5,640.2 715.6,639.9 725.9,642.2 735.1,644.8 744.2,646.4 754.5,643.7 763.6,643.1 773.9,642.5 783,641.3 792.2,639.9 802.4,643.5 811.6,645.3 820.7,645 831,645.9 840.1,647 850.4,647 859.6,647 868.7,648.5 879,647.6 888.1,648.2 898.4,649.7 907.5,648.1 916.7,642.1 927,642.1 936.1,635.3 945.2,632.9 955.5,630.2 964.6,632.4 974.9,629.4 984.1,630.3 993.2,629.6 1003.5,632.6 1012.6,624.2 1022.9,620 1032,623.6 1041.2,623.4 1051.5,621.6 1060.6,629.6 1069.7,632.3 1080,621.5 1089.2,614.6 1099.4,611 1108.6,606.8 1117.7,605.4 1128,614.4 1137.1,615.9 1147.4,613.5 1156.5,609 1165.7,601.5 1176,594.7 1185.1,595 1195.4,595.6 1204.5,600.4 1213.7,608.8 1223.9,610.8 1233.1,600.8 1242.2,593.6 1252.5,588.2 1261.6,578 1271.9,571.8 1281.1,575.7 1290.2,582 1300.5,588.6 1309.6,594.3 1319.9,605.3 1329,615.8 1338.2,620 1348.4,619.1 1357.6,625.1 1366.7,616.7 1377,611.6 1386.1,610.7 1396.4,612.5 1405.6,615.8 1414.7,626.6 1425,634.2 1434.1,640.3" fill="none" stroke="#ffffff" stroke-width="1.2" stroke-linejoin="round"/>
<polyline points="7.4,627.6 16.6,628.5 25.7,629.3 36,630 45.1,630.5 55.4,631 64.5,631.5 73.7,631.8 84,630.1 93.1,629.1 103.4,629.3 112.5,627.3 121.7,627.8 131.9,628 141.1,628.1 150.2,627.6 160.5,626.1 169.6,624.5 179.9,625 189.1,627.8 198.2,629.3 208.5,631.4 217.6,631.2 227.9,630.9 237,632 246.2,633.2 256.4,635.2 265.6,636.5 274.7,635.6 285,629.1 294.1,627.6 304.4,625.6 313.6,625.6 322.7,626.4 333,625.4 342.1,624.5 352.4,624.6 361.5,624.1 370.7,624.5 381,629.6 390.1,630.8 400.4,632.4 409.5,631.8 418.6,631.8 428.9,632.3 438.1,632.5 447.2,630.9 457.5,631.3 466.6,633 476.9,635.1 486,635.4 495.2,636 505.5,635.4 514.6,632.4 524.9,626.1 534,623.6 543.2,622.4 553.4,620.9 562.6,618.4 571.7,617.6 582,615.8 591.1,612.5 601.4,613.7 610.5,616.3 619.7,620.8 630,622.2 639.1,623.1 649.4,624.5 658.5,625.8 667.7,626.3 677.9,628.2 687.1,631.3 696.2,632 706.5,633.1 715.6,635.1 725.9,637.9 735.1,641 744.2,642.2 754.5,641.9 763.6,641.5 773.9,642.4 783,643.1 792.2,643.1 802.4,643.6 811.6,644.2 820.7,643.7 831,643.6 840.1,643.4 850.4,645.2 859.6,646.1 868.7,646.7 879,646.7 888.1,647.6 898.4,648.3 907.5,647.6 916.7,645.3 927,644.9 936.1,641.7 945.2,641.3 955.5,639.2 964.6,637.2 974.9,635.8 984.1,632.8 993.2,631.2 1003.5,631.4 1012.6,628.3 1022.9,624.7 1032,627 1041.2,626.5 1051.5,627.1 1060.6,626.9 1069.7,626.1 1080,622.5 1089.2,619 1099.4,616.3 1108.6,618.2 1117.7,618.8 1128,617.9 1137.1,615.2 1147.4,612.2 1156.5,607.9 1165.7,603.4 1176,604.5 1185.1,605.4 1195.4,604.5 1204.5,604.7 1213.7,605.1 1223.9,602.7 1233.1,597.9 1242.2,594.6 1252.5,594.3 1261.6,593.4 1271.9,591.3 1281.1,588.3 1290.2,587.8 1300.5,588.4 1309.6,586.1 1319.9,588.5 1329,595.8 1338.2,601 1348.4,603.9 1357.6,609.7 1366.7,611 1377,613.7 1386.1,615.4 1396.4,615.8 1405.6,620.5 1414.7,621.7 1425,622.9 1434.1,625.5" fill="none" stroke="#ffff00" stroke-width="1.2" stroke-linejoin="round"/>
<polyline points="7.4,750.1 16.6,750.5 25.7,742.7 36,751.5 45.1,753.2 55.4,748.9 64.5,765.2 73.7,788.9 84,770.1 93.1,763.1 103.4,759.7 112.5,811.6 121.7,852.1 131.9,870.3 141.1,872.6 150.2,877 160.5,882.7 169.6,856.8 179.9,852.6 189.1,840.1 198.2,812.9 208.5,791.3 217.6,786.4 227.9,813.4 237,837.2 246.2,821.8 256.4,840.5 265.6,853.3 274.7,858 285,858.2 294.1,854.6 304.4,865.4 313.6,852.8 322.7,856.5 333,852.1 342.1,858 352.4,864.5 361.5,841 370.7,847 381,835.1 390.1,837.4 400.4,849.5 409.5,832.8 418.6,790.2 428.9,760.7 438.1,773 447.2,750.8 457.5,747.8 466.6,754 476.9,769.2 486,784.5 495.2,827.1 505.5,795.2 514.6,767 524.9,756.3 534,751.7 543.2,763.8 553.4,774.6 562.6,783 571.7,783.5 582,808.6 591.1,839.9 601.4,866.9 610.5,878.7 619.7,854.3 630,851.1 639.1,828.3 649.4,814.5 658.5,812.3 667.7,789.1 677.9,817.2 687.1,833.5 696.2,859.9 706.5,849.1 715.6,822.2 725.9,819.5 735.1,807.9 744.2,800.1 754.5,760.5 763.6,750.3 773.9,753.1 783,775.7 792.2,814.8 802.4,834.7 811.6,817.4 820.7,846.8 831,863.8 840.1,862.1 850.4,873 859.6,870.4 868.7,868.7 879,843.1 888.1,833 898.4,852.9 907.5,811 916.7,772.9 927,758 936.1,739.3 945.2,743 955.5,747.5 964.6,758.5 974.9,752.5 984.1,796.7 993.2,835.5 1003.5,854.9 1012.6,870.2 1022.9,863 1032,867.6 1041.2,874.3 1051.5,866.1 1060.6,872.8 1069.7,846.5 1080,802.6 1089.2,787 1099.4,777.3 1108.6,774.4 1117.7,776.6 1128,800.3 1137.1,803.8 1147.4,792.5 1156.5,798.8 1165.7,764.5 1176,754 1185.1,754.6 1195.4,764.1 1204.5,771.3 1213.7,798.1 1223.9,805.9 1233.1,792.2 1242.2,807.8 1252.5,779.9 1261.6,771.1 1271.9,755.4 1281.1,789.3 1290.2,804.5 1300.5,813.6 1309.6,857.5 1319.9,872.8 1329,880.6 1338.2,862.2 1348.4,870.5 1357.6,856 1366.7,791.9 1377,753.5 1386.1,748.3 1396.4,782.8 1405.6,799.5 1414.7,825.2 1425,831.5 1434.1,828.4" fill="none" stroke="#ff00ff" stroke-width="1.2" stroke-linejoin="round"/>
<polyline points="7.4,800.9 16.6,793.7 25.7,786.4 36,781.4 45.1,777.4 55.4,773.3 64.5,772.2 73.7,774.6 84,773.9 93.1,772.4 103.4,770.6 112.5,776.4 121.7,787.2 131.9,799.1 141.1,809.6 150.2,819.2 160.5,828.3 169.6,832.4 179.9,835.3 189.1,836 198.2,832.7 208.5,826.7 217.6,821 227.9,819.9 237,822.4 246.2,822.3 256.4,824.9 265.6,828.9 274.7,833.1 285,836.7 294.1,839.2 304.4,843 313.6,844.4 322.7,846.1 333,847 342.1,848.5 352.4,850.8 361.5,849.4 370.7,849.1 381,847.1 390.1,845.7 400.4,846.2 409.5,844.3 418.6,836.6 428.9,825.8 438.1,818.2 447.2,808.6 457.5,799.9 466.6,793.3 476.9,789.9 486,789.1 495.2,794.5 505.5,794.6 514.6,790.7 524.9,785.8 534,780.9 543.2,778.5 553.4,777.9 562.6,778.7 571.7,779.4 582,783.5 591.1,791.6 601.4,802.4 610.5,813.3 619.7,819.1 630,823.7 639.1,824.4 649.4,822.9 658.5,821.4 667.7,816.8 677.9,816.9 687.1,819.2 696.2,825.1 706.5,828.5 715.6,827.6 725.9,826.4 735.1,823.8 744.2,820.4 754.5,811.8 763.6,803.1 773.9,795.9 783,793 792.2,796.1 802.4,801.7 811.6,803.9 820.7,810 831,817.7 840.1,824.1 850.4,831.1 859.6,836.7 868.7,841.2 879,841.5 888.1,840.3 898.4,842.1 907.5,837.7 916.7,828.4 927,818.4 936.1,807.1 945.2,797.9 955.5,790.7 964.6,786.1 974.9,781.3 984.1,783.5 993.2,790.9 1003.5,800.1 1012.6,810.1 1022.9,817.6 1032,824.8 1041.2,831.9 1051.5,836.8 1060.6,841.9 1069.7,842.6 1080,836.9 1089.2,829.7 1099.4,822.2 1108.6,815.4 1117.7,809.9 1128,808.5 1137.1,807.8 1147.4,805.6 1156.5,804.7 1165.7,798.9 1176,792.5 1185.1,787.1 1195.4,783.8 1204.5,782 1213.7,784.3 1223.9,787.4 1233.1,788.1 1242.2,790.9 1252.5,789.3 1261.6,786.7 1271.9,782.3 1281.1,783.3 1290.2,786.3 1300.5,790.2 1309.6,799.8 1319.9,810.2 1329,820.3 1338.2,826.3 1348.4,832.6 1357.6,835.9 1366.7,829.6 1377,818.8 1386.1,808.7 1396.4,805 1405.6,804.2 1414.7,807.2 1425,810.7 1434.1,813.2" fill="none" stroke="#ffff00" stroke-width="1.2" stroke-linejoin="round"/>
<polyline points="7.4,784 16.6,779.3 25.7,771.9 36,771.5 45.1,769.4 55.4,765.2 64.5,769.9 73.7,779.3 84,772.6 93.1,769.3 103.4,766.9 112.5,788.1 121.7,808.9 131.9,822.9 141.1,830.6 150.2,838.5 160.5,846.4 169.6,840.5 179.9,841 189.1,837.3 198.2,826.1 208.5,814.9 217.6,809.5 227.9,817.7 237,827.3 246.2,822.1 256.4,830.1 265.6,837.1 274.7,841.4 285,843.9 294.1,844.4 304.4,850.4 313.6,847.2 322.7,849.6 333,848.7 342.1,851.7 352.4,855.4 361.5,846.6 370.7,848.4 381,843.1 390.1,842.9 400.4,847.3 409.5,840.5 418.6,821.1 428.9,804.1 438.1,803.1 447.2,789.3 457.5,782.5 466.6,780.2 476.9,783 486,787.6 495.2,805.4 505.5,794.8 514.6,782.8 524.9,775.9 534,771.2 543.2,773.6 553.4,776.8 562.6,780.1 571.7,780.7 582,791.9 591.1,807.7 601.4,823.9 610.5,835.1 619.7,830.9 630,832.8 639.1,825.7 649.4,820.1 658.5,818.4 667.7,807.6 677.9,817 687.1,824 696.2,836.7 706.5,835.4 715.6,825.8 725.9,824.1 735.1,818.5 744.2,813.6 754.5,794.7 763.6,785.5 773.9,781.6 783,787.3 792.2,802.4 802.4,812.7 811.6,808.4 820.7,822.3 831,833.1 840.1,836.7 850.4,845 859.6,847.9 868.7,850.4 879,842 888.1,837.9 898.4,845.7 907.5,828.8 916.7,809.9 927,798.2 936.1,784.5 945.2,779.6 955.5,776.3 964.6,776.9 974.9,771.7 984.1,787.9 993.2,805.8 1003.5,818.4 1012.6,830.1 1022.9,832.8 1032,839.1 1041.2,846 1051.5,846.5 1060.6,852.2 1069.7,843.9 1080,825.4 1089.2,815.5 1099.4,807.3 1108.6,801.8 1117.7,798.8 1128,805.8 1137.1,806.5 1147.4,801.3 1156.5,802.7 1165.7,787.4 1176,779.7 1185.1,776.3 1195.4,777.2 1204.5,778.5 1213.7,788.9 1223.9,793.6 1233.1,789.5 1242.2,796.5 1252.5,786.2 1261.6,781.5 1271.9,773.3 1281.1,785.3 1290.2,792.4 1300.5,798 1309.6,819 1319.9,831.1 1329,840.4 1338.2,838.2 1348.4,845.2 1357.6,842.6 1366.7,817.1 1377,797 1386.1,788.6 1396.4,797.6 1405.6,802.6 1414.7,813.2 1425,817.6 1434.1,818.3" fill="none" stroke="#ffffff" stroke-width="1.2" stroke-linejoin="round"/>
<path d="M189.2,125.7 l7.6,7.6 v1.5 h-4.3 v8 h-6.6 v-8 h-4.3 v-1.5 z" fill="#ff0000"/>
<path d="M246,151.3 l7.6,7.6 v1.5 h-4.3 v8 h-6.6 v-8 h-4.3 v-1.5 z" fill="#ff0000"/>
<path d="M361.7,305.8 l7.6,7.6 v1.5 h-4.3 v8 h-6.6 v-8 h-4.3 v-1.5 z" fill="#ff0000"/>
<path d="M390.2,322.5 l7.6,7.6 v1.5 h-4.3 v8 h-6.6 v-8 h-4.3 v-1.5 z" fill="#ff0000"/>
<path d="M418.7,324 l7.6,7.6 v1.5 h-4.3 v8 h-6.6 v-8 h-4.3 v-1.5 z" fill="#ff0000"/>
<path d="M620.3,359.2 l7.6,7.6 v1.5 h-4.3 v8 h-6.6 v-8 h-4.3 v-1.5 z" fill="#ff0000"/>
<path d="M715.3,356.6 l7.6,7.6 v1.5 h-4.3 v8 h-6.6 v-8 h-4.3 v-1.5 z" fill="#ff0000"/>
<path d="M840.3,365.9 l7.6,7.6 v1.5 h-4.3 v8 h-6.6 v-8 h-4.3 v-1.5 z" fill="#ff0000"/>
<path d="M879.5,383.6 l7.6,7.6 v1.5 h-4.3 v8 h-6.6 v-8 h-4.3 v-1.5 z" fill="#ff0000"/>
<path d="M907.8,389.6 l7.6,7.6 v1.5 h-4.3 v8 h-6.6 v-8 h-4.3 v-1.5 z" fill="#ff0000"/>
<path d="M1338.5,439.5 l7.6,7.6 v1.5 h-4.3 v8 h-6.6 v-8 h-4.3 v-1.5 z" fill="#ff0000"/>
<path d="M198.5,10.2 l7.6,7.6 v1.5 h-4.3 v8 h-6.6 v-8 h-4.3 v-1.5 z" fill="#ff0000"/>
<path d="M63,36.4 V41.6 H58.5 L65,49.1 L71.5,41.6 H67 V36.4" fill="none" stroke="#00e000" stroke-width="1.35" stroke-linejoin="miter"/>
<path d="M106.8,35.6 L112.8,42.2 M117.2,37.6 l1.3,-1.6 l1.3,1.6" fill="none" stroke="#00e000" stroke-width="1.35"/>
<path d="M552.1,225.5 V218.8 H556.1 V225.5 H560.6 L554.1,233 L547.6,225.5 Z" fill="none" stroke="#00e000" stroke-width="1.35" stroke-linejoin="miter"/>
<path d="M982.5,298.3 V291.5 H986.5 V298.3 H991 L984.5,305.8 L978,298.3 Z" fill="none" stroke="#00e000" stroke-width="1.35" stroke-linejoin="miter"/>
<path d="M1183.6,365.9 V359.1 H1187.5 V365.9 H1192.1 L1185.6,373.4 L1179.1,365.9 Z" fill="none" stroke="#00e000" stroke-width="1.35" stroke-linejoin="miter"/>
<path d="M1279.6,348.2 V341.4 H1283.5 V348.2 H1288.1 L1281.6,355.7 L1275.1,348.2 Z" fill="none" stroke="#00e000" stroke-width="1.35" stroke-linejoin="miter"/>
<line x1="90.8" y1="33.1" x2="1467.5" y2="473.8" stroke="#0000ff" stroke-width="1.3"/>
<line x1="2" y1="172" x2="1077.5" y2="515.2" stroke="#0000ff" stroke-width="1.3"/>
<line x1="605" y1="33.5" x2="1467.5" y2="308" stroke="#0000ff" stroke-width="1.3"/>
<line x1="553" y1="515.2" x2="1467.5" y2="296" stroke="#0000ff" stroke-width="1.3"/>
<line x1="1023.3" y1="515.4" x2="1467.5" y2="407.8" stroke="#0000ff" stroke-width="1.3"/>
<line x1="2" y1="389.4" x2="1467.5" y2="389.4" stroke="#0000ff" stroke-width="2.0"/>
<path d="M1069.4,508.6 l5.5,6.4 h-11 z" fill="#ff0000"/>
<path d="M1068.8,506.5 H1086.5 M1068.8,506.5 l3.2,-2.4 M1068.8,506.5 l3.2,2.4" stroke="#c0c0c0" stroke-width="1.2" fill="none"/>
<path d="M92,36 L107,38.6 M92,36 l1,5.5 M92,36 l5.5,-1" stroke="#c0c0c0" stroke-width="1.2" fill="none"/>
<path d="M1435.2,12.2 l8.1,8.1 l-8.1,8.1 l-8.1,-8.1 z" fill="none" stroke="#a40000" stroke-width="1.3"/>
<path d="M1450.2,12.9 h13.8 v15 h-13.8 z M1459.4,12.9 v15" fill="none" stroke="#a40000" stroke-width="1.6"/>
<rect x="1412" y="33" width="4.6" height="3.2" fill="#ff00ff"/>
<rect x="1422.4" y="33" width="4.6" height="3.2" fill="#ff00ff"/>
<rect x="1431.6" y="33" width="4.6" height="3.2" fill="#ff00ff"/>
<path d="M2,443.7 L15,460.2 V506 L2,524.9 z" fill="#303030" stroke="#5c5c5c" stroke-width="1.3"/>
<path d="M3.2,476 L11,483.1 L3.2,490.2 z" fill="#e6a000"/>
<text x="3.7 21.1 38.6 56" y="26.4" font-size="18.5" fill="#d6d6d6" font-family="'Liberation Sans','Noto Sans CJK SC',sans-serif">上证指数</text>
<text x="79.8 97.2" y="26.4" font-size="18.5" fill="#d6d6d6" font-family="'Liberation Sans','Noto Sans CJK SC',sans-serif">日线</text>
<text x="120.1 137.6 155" y="26.4" font-size="18.5" fill="#d6d6d6" font-family="'Liberation Sans','Noto Sans CJK SC',sans-serif">前复权</text>
</svg>
<div class="h">上证指数 日线 前复权</div>
<div class="t" style="left:74.8px;top:9px;color:#c8c8c8;font-size:18.6px;transform:translateY(0.55px) scaleX(1);">(</div>
<div class="t" style="left:116.5px;top:9px;color:#c8c8c8;font-size:18.6px;transform:translateY(0.55px) scaleX(1);">.</div>
<div class="t" style="left:174.5px;top:9px;color:#c8c8c8;font-size:18.6px;transform:translateY(0.55px) scaleX(1);">)</div>
<div class="t" style="left:211.4px;top:9px;color:#fff;font-size:18.6px;transform:translateY(0.75px) scaleX(0.878);">MA5:</div>
<div class="t" style="left:255.8px;top:9px;color:#fff;font-size:18.6px;transform:translateY(0.75px) scaleX(0.9645);">2598.38</div>
<div class="t" style="left:330px;top:9px;color:#ff0;font-size:18.6px;transform:translateY(0.75px) scaleX(0.8823);">MA10:</div>
<div class="t" style="left:384.4px;top:9px;color:#ff0;font-size:18.6px;transform:translateY(0.75px) scaleX(0.9528);">2611.81</div>
<div class="t" style="left:458.6px;top:9px;color:#f0f;font-size:18.6px;transform:translateY(0.75px) scaleX(0.8803);">MA20:</div>
<div class="t" style="left:513px;top:9px;color:#f0f;font-size:18.6px;transform:translateY(0.75px) scaleX(0.9526);">2622.17</div>
<div class="t" style="left:587.7px;top:9px;color:#0f0;font-size:18.6px;transform:translateY(0.75px) scaleX(0.8593);">MA250:</div>
<div class="t" style="left:650.8px;top:9px;color:#0f0;font-size:18.6px;transform:translateY(0.75px) scaleX(1.0019);">2988.85</div>
<div class="t" style="left:3.1px;top:536px;color:#c8c8c8;font-size:18.6px;transform:translateY(0.15px) scaleX(0.9076);">VOLUME:</div>
<div class="t" style="left:85.8px;top:536px;color:#c8c8c8;font-size:18.6px;transform:translateY(0.15px) scaleX(0.99);">103518304.00</div>
<div class="t" style="left:213.2px;top:536px;color:#fff;font-size:18.6px;transform:translateY(0.15px) scaleX(0.861);">MA5:</div>
<div class="t" style="left:256.8px;top:536px;color:#fff;font-size:18.6px;transform:translateY(0.15px) scaleX(0.9966);">113751800.00</div>
<div class="t" style="left:384.1px;top:536px;color:#ff0;font-size:18.6px;transform:translateY(0.15px) scaleX(0.8823);">MA10:</div>
<div class="t" style="left:437.7px;top:536px;color:#ff0;font-size:18.6px;transform:translateY(0.15px) scaleX(0.9909);">139517824.00</div>
<div class="t" style="left:2.1px;top:712px;color:#c8c8c8;font-size:18.6px;transform:translateY(0.85px) scaleX(0.9615);">KDJ(9,3,3)</div>
<div class="t" style="left:97.1px;top:712px;color:#fff;font-size:18.6px;transform:translateY(0.85px) scaleX(0.883);">K:</div>
<div class="t" style="left:119px;top:712px;color:#fff;font-size:18.6px;transform:translateY(0.85px) scaleX(0.9483);">42.46</div>
<div class="t" style="left:172.1px;top:712px;color:#ff0;font-size:18.6px;transform:translateY(0.85px) scaleX(0.8644);">D:</div>
<div class="t" style="left:195.1px;top:712px;color:#ff0;font-size:18.6px;transform:translateY(0.85px) scaleX(0.9548);">46.80</div>
<div class="t" style="left:247.9px;top:712px;color:#f0f;font-size:18.6px;transform:translateY(0.85px) scaleX(0.9025);">J:</div>
<div class="t" style="left:267.9px;top:712px;color:#f0f;font-size:18.6px;transform:translateY(0.85px) scaleX(0.9353);">33.76</div>
<div class="t" style="left:115px;top:34px;color:#c8c8c8;font-size:18.6px;transform:translateY(0.55px) scaleX(0.9511);">3219.74</div>
<div class="t" style="left:981.4px;top:276px;color:#c8c8c8;font-size:18.6px;transform:translateY(0.85px) scaleX(0.978);">2791.84 - 2771.94</div>
<div class="t" style="left:1090px;top:499px;color:#c8c8c8;font-size:18.6px;transform:translateY(0.05px) scaleX(0.9616);">2449.20</div>
<div class="t" style="left:1470.8px;top:687px;color:#d42a2a;font-size:18.8px;transform:translateY(0.69px) scaleX(1);">X</div>
<div id="top"></div><div class="tab" style="left:580.5px"></div><div class="tab" style="left:648px"></div><div id="left"></div>
</body></html>
